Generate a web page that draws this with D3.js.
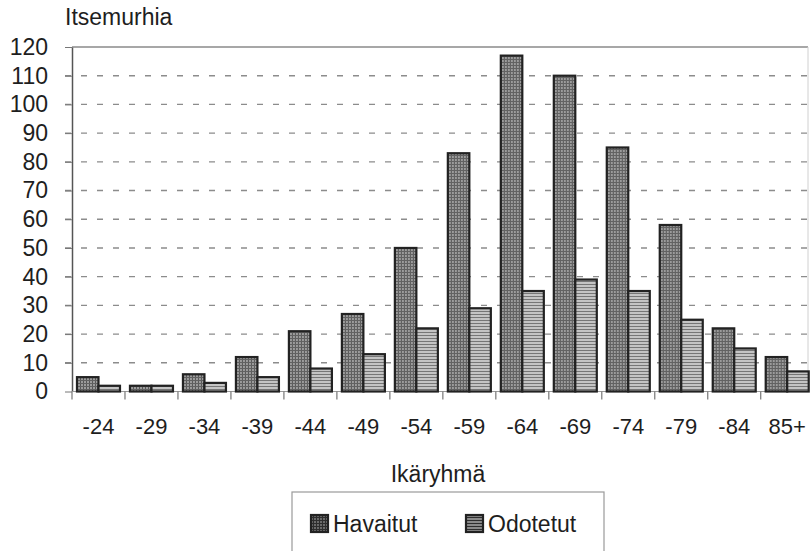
<!DOCTYPE html>
<html>
<head>
<meta charset="utf-8">
<script src="https://cdn.jsdelivr.net/npm/d3@7/dist/d3.min.js"></script>
<style>
  html, body { margin: 0; padding: 0; background: #fff; }
  svg { display: block; font-family: "Liberation Sans", Arial, sans-serif; }
</style>
</head>
<body>
<svg id="chart" width="811" height="551"></svg>
<script>
// Age groups and suicide counts: observed vs. expected
const ageGroups = ["-24", "-29", "-34", "-39", "-44", "-49", "-54", "-59", "-64", "-69", "-74", "-79", "-84", "85+"];
const observed = [5, 2, 6, 12, 21, 27, 50, 83, 117, 110, 85, 58, 22, 12];
const expected = [2, 2, 3, 5, 8, 13, 22, 29, 35, 39, 35, 25, 15, 7];
const seriesNames = ["Havaitut", "Odotetut"];
const yTicks = [0, 10, 20, 30, 40, 50, 60, 70, 80, 90, 100, 110, 120];

const svg = d3.select("#chart");
const defs = svg.append("defs");

// Fill pattern helpers: fine grid hatching and horizontal line hatching
function gridPattern(id, bg, line1, line2) {
  const p = defs.append("pattern").attr("id", id)
    .attr("patternUnits", "userSpaceOnUse").attr("width", 3).attr("height", 3);
  p.append("rect").attr("width", 3).attr("height", 3).attr("fill", bg);
  p.append("rect").attr("x", 2).attr("width", 1).attr("height", 3).attr("fill", line1);
  p.append("rect").attr("y", 2).attr("width", 3).attr("height", 1).attr("fill", line2);
}
function stripePattern(id, bg, line) {
  const p = defs.append("pattern").attr("id", id)
    .attr("patternUnits", "userSpaceOnUse").attr("width", 4).attr("height", 3);
  p.append("rect").attr("width", 4).attr("height", 3).attr("fill", bg);
  p.append("rect").attr("y", 2).attr("width", 4).attr("height", 1).attr("fill", line);
}
gridPattern("pat-obs", "#9c9c9c", "#575757", "#626262");
stripePattern("pat-exp", "#c4c4c4", "#767676");
gridPattern("pat-obs-key", "#6a6a6a", "#2e2e2e", "#2e2e2e");
stripePattern("pat-exp-key", "#8a8a8a", "#2e2e2e");

const fills = { "Havaitut": "url(#pat-obs)", "Odotetut": "url(#pat-exp)" };
const keyFills = { "Havaitut": "url(#pat-obs-key)", "Odotetut": "url(#pat-exp-key)" };

const plotLeft = 72, plotRight = 813.7, plotTop = 47, plotBottom = 391.5, frameRight = 808;

const x0 = d3.scaleBand().domain(ageGroups).range([plotLeft, plotRight]).paddingInner(0).paddingOuter(0);
const x1 = d3.scaleBand().domain(seriesNames).range([0, x0.bandwidth()]).paddingInner(0).paddingOuter(0.232);
const y = d3.scaleLinear().domain([0, 120]).range([plotBottom, plotTop]);

// Dashed gridlines
svg.append("g").selectAll("line")
  .data(yTicks.filter(t => t > 0 && t < 120))
  .join("line")
  .attr("x1", plotLeft - 7).attr("x2", frameRight)
  .attr("y1", d => y(d)).attr("y2", d => y(d))
  .attr("stroke", "#8c8c8c").attr("stroke-width", 1.4)
  .attr("stroke-dasharray", "6 10");

// Plot frame: top and right edges
svg.append("line").attr("x1", plotLeft).attr("x2", frameRight)
  .attr("y1", y(120)).attr("y2", y(120)).attr("stroke", "#8a8a8a").attr("stroke-width", 1.5);
svg.append("line").attr("x1", frameRight).attr("x2", frameRight)
  .attr("y1", y(120)).attr("y2", plotBottom).attr("stroke", "#d0d0d0").attr("stroke-width", 1);

// Y axis
const yAxis = svg.append("g").attr("transform", `translate(${plotLeft},0)`)
  .call(d3.axisLeft(y).tickValues(yTicks).tickSizeInner(7).tickSizeOuter(0).tickPadding(17));
yAxis.select(".domain").attr("stroke", "#555").attr("stroke-width", 1.5);
yAxis.selectAll(".tick line").attr("stroke", "#777");
yAxis.selectAll(".tick text").attr("font-size", 23).attr("fill", "#1e1e1e")
  .attr("font-family", "'Liberation Sans', Arial, sans-serif");

// X axis baseline, group boundary ticks and labels
svg.append("line").attr("x1", plotLeft).attr("x2", frameRight)
  .attr("y1", plotBottom).attr("y2", plotBottom).attr("stroke", "#9a9a9a").attr("stroke-width", 1.2);
const bounds = ageGroups.map(g => x0(g)).concat([plotRight]);
svg.append("g").selectAll("line").data(bounds.filter(b => b <= frameRight)).join("line")
  .attr("x1", d => d).attr("x2", d => d)
  .attr("y1", plotBottom).attr("y2", plotBottom + 8)
  .attr("stroke", "#777").attr("stroke-width", 1.2);

const xAxis = svg.append("g").attr("transform", `translate(0,${plotBottom})`)
  .call(d3.axisBottom(x0).tickSize(0).tickPadding(27));
xAxis.select(".domain").remove();
xAxis.selectAll(".tick text").attr("font-size", 22).attr("fill", "#1e1e1e")
  .attr("font-family", "'Liberation Sans', Arial, sans-serif");

// Bars
const rows = ageGroups.map((g, i) => ({ group: g, values: [
  { key: "Havaitut", value: observed[i] },
  { key: "Odotetut", value: expected[i] }
]}));

svg.append("g").selectAll("g").data(rows).join("g")
  .attr("transform", d => `translate(${x0(d.group)},0)`)
  .selectAll("rect").data(d => d.values).join("rect")
  .attr("x", d => x1(d.key))
  .attr("width", x1.bandwidth())
  .attr("y", d => y(d.value))
  .attr("height", d => y(0) - y(d.value))
  .attr("fill", d => fills[d.key])
  .attr("stroke", "#222").attr("stroke-width", 2.2);

// Titles
svg.append("text").attr("x", 65).attr("y", 25).attr("font-size", 23).attr("fill", "#1e1e1e")
  .text("Itsemurhia");
svg.append("text").attr("x", 438).attr("y", 482).attr("text-anchor", "middle")
  .attr("font-size", 23).attr("fill", "#1e1e1e").text("Ikäryhmä");

// Legend
const legend = svg.append("g");
legend.append("rect").attr("x", 292).attr("y", 492).attr("width", 312).attr("height", 62)
  .attr("fill", "#fff").attr("stroke", "#9a9a9a").attr("stroke-width", 1.2);
const legendX = [311, 466];
seriesNames.forEach((name, i) => {
  const item = legend.append("g").attr("transform", `translate(${legendX[i]},515)`);
  item.append("rect").attr("width", 17).attr("height", 17)
    .attr("fill", keyFills[name]).attr("stroke", "#222").attr("stroke-width", 2.2);
  item.append("text").attr("x", 22).attr("y", 17).attr("font-size", 23).attr("fill", "#1e1e1e")
    .text(name);
});
</script>
</body>
</html>
